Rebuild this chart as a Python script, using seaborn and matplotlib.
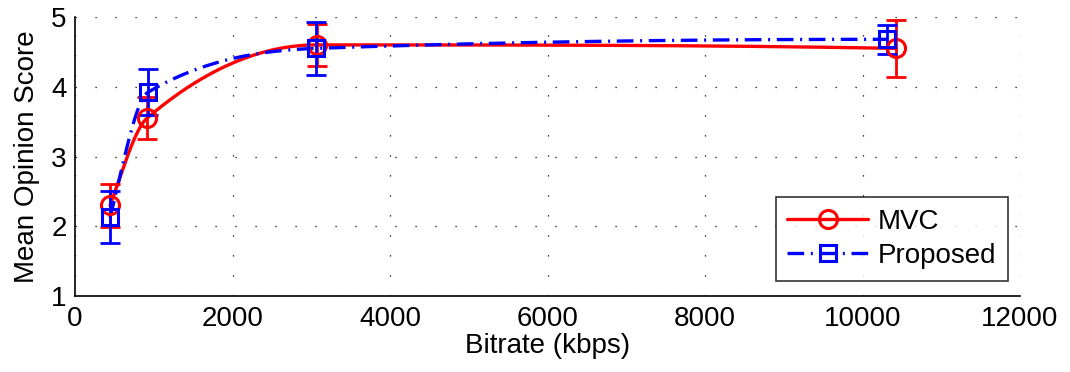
import numpy as np
import pandas as pd
import matplotlib
matplotlib.use("Agg")
import matplotlib.pyplot as plt
import seaborn as sns
from matplotlib.ticker import AutoMinorLocator

# Measured bitrates (kbps), mean opinion scores and error half-widths
mvc_bitrate = [445, 915, 3070, 10430]
mvc_mos = [2.30, 3.55, 4.60, 4.55]
mvc_err = [0.31, 0.30, 0.30, 0.41]

prop_bitrate = [445, 925, 3060, 10310]
prop_mos = [2.13, 3.92, 4.55, 4.68]
prop_err = [0.37, 0.33, 0.38, 0.21]

series_names = ["MVC", "Proposed"]
x_ticks = [0, 2000, 4000, 6000, 8000, 10000, 12000]
y_ticks = [1, 2, 3, 4, 5]


def _end_slope(h0, h1, d0, d1):
    m = ((2 * h0 + h1) * d0 - h0 * d1) / (h0 + h1)
    if np.sign(m) != np.sign(d0):
        return 0.0
    if np.sign(d0) != np.sign(d1) and abs(m) > abs(3 * d0):
        return 3 * d0
    return m


def pchip(x, y, xs):
    """Shape-preserving cubic through (x, y), evaluated at xs."""
    x = np.asarray(x, float)
    y = np.asarray(y, float)
    h = np.diff(x)
    d = np.diff(y) / h
    n = len(x)
    m = np.zeros(n)
    for k in range(1, n - 1):
        if d[k - 1] * d[k] > 0:
            w1 = 2 * h[k] + h[k - 1]
            w2 = h[k] + 2 * h[k - 1]
            m[k] = (w1 + w2) / (w1 / d[k - 1] + w2 / d[k])
    m[0] = _end_slope(h[0], h[1], d[0], d[1])
    m[-1] = _end_slope(h[-1], h[-2], d[-1], d[-2])
    out = np.empty(len(xs))
    for i, xv in enumerate(xs):
        k = int(np.clip(np.searchsorted(x, xv, side="right") - 1, 0, n - 2))
        t = (xv - x[k]) / h[k]
        h00 = 2 * t**3 - 3 * t**2 + 1
        h10 = t**3 - 2 * t**2 + t
        h01 = -2 * t**3 + 3 * t**2
        h11 = t**3 - t**2
        out[i] = h00 * y[k] + h10 * h[k] * m[k] + h01 * y[k + 1] + h11 * h[k] * m[k + 1]
    return out


sns.set_style("white")
plt.rcParams["font.family"] = ["Liberation Sans", "DejaVu Sans"]
plt.rcParams["text.color"] = "black"
plt.rcParams["axes.labelcolor"] = "black"

FS = 20
LW = 2.4

fig = plt.figure(figsize=(10.70, 3.72), dpi=100)
ax = fig.add_axes([0.0701, 0.2043, 0.8832, 0.75])

styles = {
    "MVC": dict(color="#ff0000", marker="o", ms=13, dashes=None),
    "Proposed": dict(color="#0000ff", marker="s", ms=11, dashes=(5, 2, 0.6, 2)),
}
data = {
    "MVC": (mvc_bitrate, mvc_mos, mvc_err),
    "Proposed": (prop_bitrate, prop_mos, prop_err),
}

handles = []
for name in series_names:
    bx, by, be = data[name]
    st = styles[name]
    xs = np.linspace(bx[0], bx[-1], 400)
    curve = pd.DataFrame({"bitrate": xs, "mos": pchip(bx, by, xs)})
    sns.lineplot(data=curve, x="bitrate", y="mos", ax=ax, color=st["color"],
                 lw=LW, zorder=3)
    line = ax.lines[-1]
    if st["dashes"]:
        line.set_dashes(st["dashes"])
    ax.errorbar(bx, by, yerr=be, fmt="none", ecolor=st["color"], elinewidth=2,
                capsize=7, capthick=2, zorder=4)
    ax.plot(bx, by, ls="none", marker=st["marker"], ms=st["ms"], mfc="none",
            mec=st["color"], mew=2.2, zorder=5)
    h, = ax.plot([], [], color=st["color"], lw=LW, marker=st["marker"], ms=st["ms"],
                 mfc="none", mec=st["color"], mew=2.2, label=name)
    if st["dashes"]:
        h.set_dashes(st["dashes"])
    handles.append(h)

ax.set_xlim(0, 12000)
ax.set_ylim(1, 5)
ax.set_xticks(x_ticks)
ax.set_yticks(y_ticks)
ax.set_xticklabels([str(t) for t in x_ticks])
ax.set_yticklabels([str(t) for t in y_ticks])
ax.xaxis.set_minor_locator(AutoMinorLocator(10))
ax.yaxis.set_minor_locator(AutoMinorLocator(10))
ax.tick_params(axis="both", which="major", direction="in", length=7, width=0.9,
               labelsize=FS, colors="black")
ax.tick_params(axis="x", which="major", pad=7)
ax.tick_params(axis="y", which="major", pad=6)
ax.tick_params(axis="both", which="minor", direction="in", length=3, width=0.6,
               colors="black")
ax.grid(True, which="major", color="black", linestyle=(0, (1, 15)), linewidth=0.9)

for side in ("top", "right"):
    ax.spines[side].set_visible(False)
for side in ("left", "bottom"):
    ax.spines[side].set_color("black")
    ax.spines[side].set_linewidth(1.2)

ax.set_xlabel("Bitrate (kbps)", fontsize=FS, labelpad=1, color="black")
ax.set_ylabel("Mean Opinion Score", fontsize=FS, labelpad=8, color="black")

leg = ax.legend(handles=handles, loc="lower right", fontsize=FS,
                bbox_to_anchor=(0.987, 0.055), frameon=True, fancybox=False,
                handlelength=2.9, borderpad=0.42, labelspacing=0.3,
                handletextpad=0.35, borderaxespad=0)
leg.get_frame().set_edgecolor("black")
leg.get_frame().set_linewidth(1.2)
for txt in leg.get_texts():
    txt.set_color("black")

fig.savefig("out.png", dpi=100, facecolor="white")
